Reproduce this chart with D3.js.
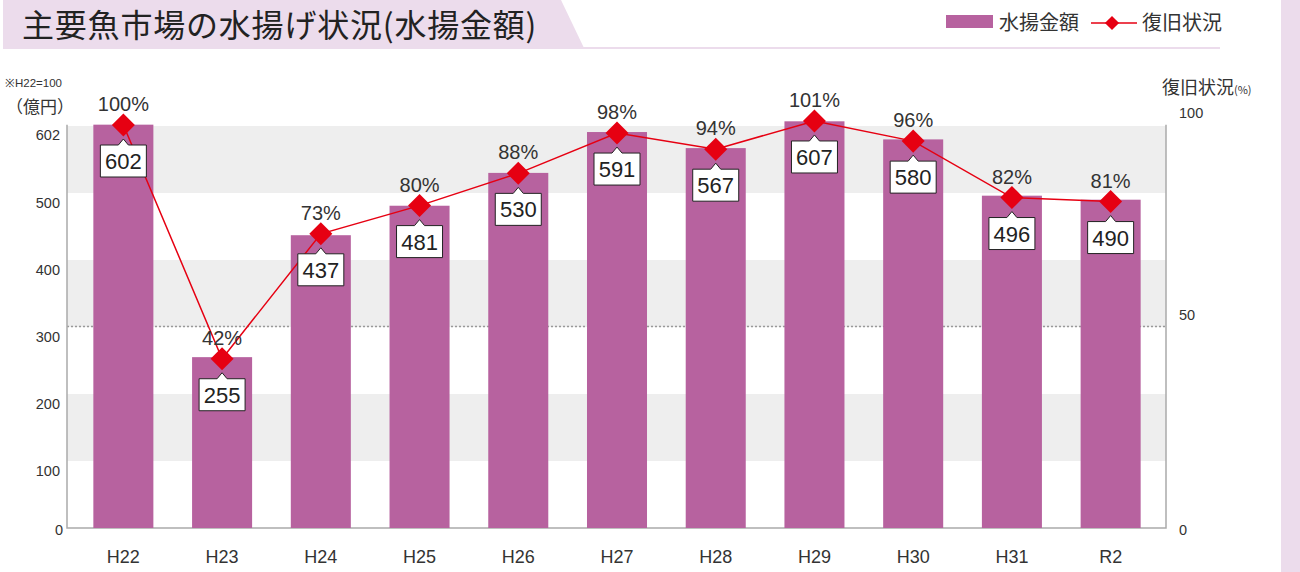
<!doctype html>
<html>
<head>
  <meta charset="utf-8">
  <script src="https://cdnjs.cloudflare.com/ajax/libs/d3/7.8.5/d3.min.js"></script>
  <style>
    body { margin: 0; background: #fff; }
    svg { display: block; font-family: "Liberation Sans", Arial, sans-serif; }
    .jp { font-family: "Noto Sans CJK JP", sans-serif; }
    .axis path.domain { display: none; }
    .axis text { fill: #333; }
  </style>
</head>
<body>
  <svg width="1300" height="572"></svg>
  <script>
    var years = ["H22", "H23", "H24", "H25", "H26", "H27", "H28", "H29", "H30", "H31", "R2"];
    var amounts = [602, 255, 437, 481, 530, 591, 567, 607, 580, 496, 490];
    var recovery = [100, 42, 73, 80, 88, 98, 94, 101, 96, 82, 81];
    var leftTicks = [0, 100, 200, 300, 400, 500, 602];
    var rightTicks = [0, 50, 100];
    var grayBands = [[100, 200], [300, 400], [500, 600]];

    var barColor = "#b7629f", red = "#e60012", pink = "#ecdcec";
    var svg = d3.select("svg");

    var x = d3.scaleBand().domain(years).range([74, 1160]).paddingInner(0.392).paddingOuter(0.196);
    var y = d3.scaleLinear().domain([0, 600]).range([528, 126]);
    var yp = d3.scaleLinear().domain([0, 100]).range([528, 125]);
    var left = 67, right = 1166;

    // title band + frame decorations
    svg.append("path").attr("d", "M3,0 L561,0 L584,48 L3,48 Z").attr("fill", pink);
    svg.append("rect").attr("x", 3).attr("y", 47).attr("width", 1217).attr("height", 2).attr("fill", pink);
    svg.append("rect").attr("x", 1281).attr("y", 0).attr("width", 19).attr("height", 572).attr("fill", pink);
    svg.append("text").attr("class", "jp").attr("x", 22).attr("y", 37)
      .attr("font-size", 32).attr("font-weight", 400).attr("letter-spacing", 0.8).attr("fill", "#222")
      .text("主要魚市場の水揚げ状況(水揚金額)");

    // legend
    svg.append("rect").attr("x", 946).attr("y", 15).attr("width", 47).attr("height", 13).attr("fill", barColor);
    svg.append("text").attr("class", "jp").attr("x", 999).attr("y", 30).attr("font-size", 20).attr("fill", "#333").text("水揚金額");
    svg.append("line").attr("x1", 1091).attr("x2", 1137).attr("y1", 23).attr("y2", 23).attr("stroke", red).attr("stroke-width", 1.5);
    svg.append("path").attr("d", d3.symbol(d3.symbolSquare, 100)()).attr("transform", "translate(1112,23) rotate(45)").attr("fill", red);
    svg.append("text").attr("class", "jp").attr("x", 1142).attr("y", 30).attr("font-size", 20).attr("fill", "#333").text("復旧状況");

    // background bands
    svg.selectAll("rect.band").data(grayBands).enter().append("rect").attr("class", "band")
      .attr("x", left).attr("width", right - left)
      .attr("y", d => y(d[1])).attr("height", d => y(d[0]) - y(d[1]))
      .attr("fill", "#eeeeee");
    svg.append("line").attr("x1", left).attr("x2", right).attr("y1", yp(50)).attr("y2", yp(50))
      .attr("stroke", "#999").attr("stroke-width", 1.5).attr("stroke-dasharray", "2,2");

    // axis lines
    svg.append("path").attr("d", "M" + left + "," + y(602) + "V" + y(0) + "H" + right + "V" + y(602))
      .attr("fill", "none").attr("stroke", "#aaa").attr("stroke-width", 1.5);

    // axes
    var gl = svg.append("g").attr("class", "axis").attr("transform", "translate(60,0)")
      .call(d3.axisLeft(y).tickValues(leftTicks).tickSize(0).tickPadding(0));
    gl.selectAll("text").attr("font-size", 14.5).attr("dy", d => d === 0 ? "0.45em" : "1em")
      .attr("x", d => d === 0 ? 3 : 0);
    var gr = svg.append("g").attr("class", "axis").attr("transform", "translate(1179,0)")
      .call(d3.axisRight(yp).tickValues(rightTicks).tickSize(0).tickPadding(0));
    gr.selectAll("text").attr("font-size", 14.5).attr("dy", d => d === 0 ? "0.45em" : "-0.5em");
    var gb = svg.append("g").attr("class", "axis").attr("transform", "translate(0,528)")
      .call(d3.axisBottom(x).tickSize(0).tickPadding(0));
    gb.selectAll("text").attr("font-size", 18).attr("dy", "1.95em");

    // unit labels
    svg.append("text").attr("x", 5).attr("y", 87).attr("font-size", 11.5).attr("fill", "#333").text("※H22=100");
    svg.append("text").attr("class", "jp").attr("x", 40).attr("y", 113).attr("font-size", 17)
      .attr("text-anchor", "middle").attr("fill", "#333").text("（億円）");
    var ru = svg.append("text").attr("class", "jp").attr("x", 1162).attr("y", 94).attr("font-size", 18).attr("fill", "#333");
    ru.append("tspan").text("復旧状況");
    ru.append("tspan").attr("font-size", 11).text("(%)");

    // bars
    svg.selectAll("rect.bar").data(amounts).enter().append("rect").attr("class", "bar")
      .attr("x", (d, i) => x(years[i])).attr("width", x.bandwidth())
      .attr("y", d => y(d)).attr("height", d => y(0) - y(d))
      .attr("fill", barColor);

    // recovery line
    var cx = i => x(years[i]) + x.bandwidth() / 2;
    svg.append("path").datum(recovery)
      .attr("d", d3.line().x((d, i) => cx(i)).y(d => yp(d)))
      .attr("fill", "none").attr("stroke", red).attr("stroke-width", 1.5);

    svg.selectAll("path.dia").data(recovery).enter().append("path").attr("class", "dia")
      .attr("d", d3.symbol(d3.symbolSquare, 265)())
      .attr("transform", (d, i) => "translate(" + cx(i) + "," + yp(d) + ") rotate(45)")
      .attr("fill", red);

    // value callouts
    var callouts = svg.selectAll("g.call").data(amounts).enter().append("g").attr("class", "call")
      .attr("transform", (d, i) => "translate(" + cx(i) + "," + (yp(recovery[i]) + 20) + ")");
    callouts.append("path")
      .attr("d", "M-23,0 H-5 L0,-6 L5,0 H23 V32 H-23 Z")
      .attr("fill", "#fff").attr("stroke", "#222").attr("stroke-width", 1);
    callouts.append("text").attr("y", 24).attr("text-anchor", "middle")
      .attr("font-size", 22).attr("fill", "#222").text(d => d);

    // percent labels
    svg.selectAll("text.pct").data(recovery).enter().append("text").attr("class", "pct")
      .attr("x", (d, i) => cx(i)).attr("y", d => yp(d) - 14)
      .attr("text-anchor", "middle").attr("font-size", 20).attr("fill", "#333")
      .text(d => d + "%");
  </script>
</body>
</html>
